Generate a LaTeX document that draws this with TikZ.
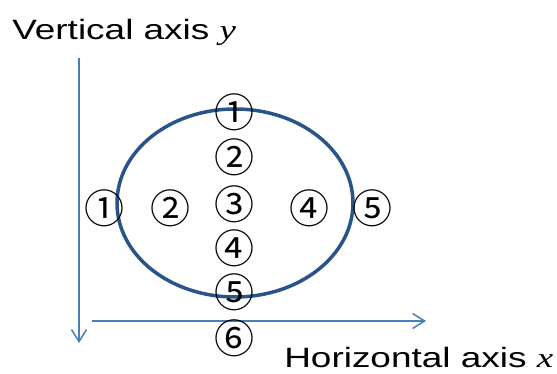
\documentclass[tikz,border=0pt]{standalone}
\usepackage{fontspec}
\setmainfont{Liberation Sans}
\newfontfamily\timesfont{Liberation Serif}
\newfontfamily\circfont{Noto Sans CJK JP}
\usetikzlibrary{arrows.meta}
\definecolor{axisblue}{RGB}{74,126,187}
\definecolor{ringblue}{RGB}{40,84,138}
\begin{document}
\begin{tikzpicture}[x=1pt, y=-1pt, every node/.style={inner sep=0pt},
    num/.style={font=\circfont\fontsize{40}{40}\selectfont},
    lbl/.style={font=\fontsize{28}{30}\selectfont, xscale=1.32, transform shape, anchor=base west},
    axisline/.style={axisblue, line width=1.5pt, -{Straight Barb[length=12pt, width=15pt, line width=1.5pt]}}]
    \useasboundingbox (0,0) rectangle (557,374);

    % Achsen
    \coordinate (ytop) at (79,58);
    \coordinate (ybot) at (79,343);
    \coordinate (xleft) at (92,321);
    \coordinate (xright) at (426,321);
    \draw[axisline] (ytop) -- (ybot);
    \draw[axisline] (xleft) -- (xright);
    \node[lbl] (ylabel) at (12,40) {Vertical axis {\timesfont\itshape y}};
    \node[lbl] (xlabel) at (284,367) {Horizontal axis {\timesfont\itshape x}};

    % Ellipse
    \draw[ringblue, line width=3.5pt] (235,203) ellipse [x radius=118, y radius=94];

    % senkrechte Reihe
    \node[num] (v1) at (234,112) {①};
    \node[num] (v2) at (234,157) {②};
    \node[num] (v3) at (234,204) {③};
    \node[num] (v4) at (234,248) {④};
    \node[num] (v5) at (234,292) {⑤};
    \node[num] (v6) at (234,338) {⑥};

    % waagerechte Reihe
    \node[num] (h1) at (104,208) {①};
    \node[num] (h2) at (170,208) {②};
    \node[num] (h4) at (309,208) {④};
    \node[num] (h5) at (372,208) {⑤};
\end{tikzpicture}
\end{document}
